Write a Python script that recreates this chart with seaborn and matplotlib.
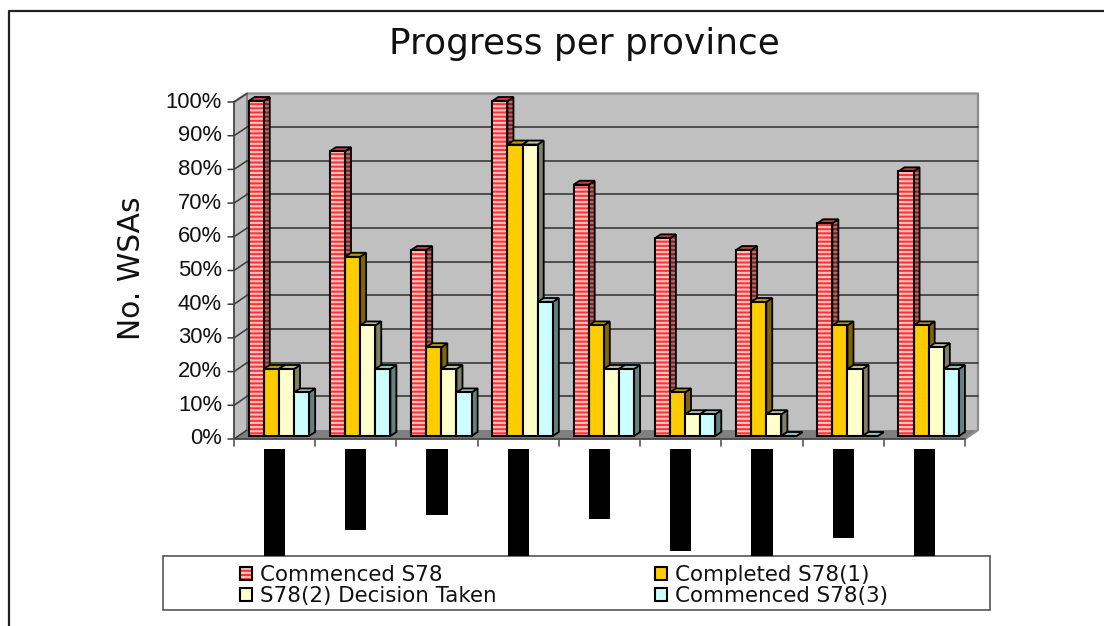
#progress per province chart, 3D look done by hand on top of seaborn bars
import pandas as pd
import matplotlib
matplotlib.use('Agg')
import matplotlib.pyplot as plt
import seaborn as sns
from matplotlib.patches import Patch, Polygon, Rectangle
from matplotlib.legend_handler import HandlerTuple

provinces = ['P1', 'P2', 'P3', 'P4', 'P5', 'P6', 'P7', 'P8', 'P9']
commenced_s78 = [100, 85, 55.5, 100, 75, 59, 55.5, 63.5, 79]
completed_s78_1 = [20, 53.5, 26.5, 87, 33, 13, 40, 33, 33]
decision_s78_2 = [20, 33, 20, 87, 20, 6.5, 6.5, 20, 26.5]
commenced_s78_3 = [13, 20, 13, 40, 20, 6.5, 0, 0, 20]
# the province names are blacked out in the picture, these are the black lengths
hidden_label_len = [107, 81, 66, 107, 70, 102, 107, 89, 107]

series_names = ['Commenced S78', 'Completed S78(1)', 'S78(2) Decision Taken', 'Commenced S78(3)']
series_values = [commenced_s78, completed_s78_1, decision_s78_2, commenced_s78_3]
face_colors = ['#ff3333', '#ffcc00', '#ffffcc', '#ccffff']
side_colors = ['#7f1f1f', '#806600', '#808066', '#668080']
top_colors = ['#c23a3a', '#bf9900', '#bfbf99', '#99bfbf']
stripe_color = '#ffc4c4'
y_ticks = list(range(0, 101, 10))

sns.set_style('white')
plt.rcParams['hatch.linewidth'] = 1.5
W, H = 1104, 626
fig = plt.figure(figsize=(W / 100, H / 100), dpi=100)

#background layer in pixel coords
bg = fig.add_axes([0, 0, 1, 1])
bg.set_xlim(0, W)
bg.set_ylim(H, 0)
bg.axis('off')
bg.plot([9, 9, W], [H, 11, 11], color='#222222', lw=1.6)


def front_y(v):
    return 439 - 3.37 * v


def back_y(v):
    return 430 - 3.365 * v


bg.add_patch(Polygon([(234, 102), (247, 93.5), (978, 93.5), (978, 430), (965, 439), (234, 439)],
                     facecolor='#c0c0c0', edgecolor='none'))
bg.add_patch(Polygon([(234, 439), (247, 430), (978, 430), (965, 439)], facecolor='#808080', edgecolor='none'))
bg.plot([234, 247, 978, 978, 965], [102, 93.5, 93.5, 430, 439], color='#8c8c8c', lw=1.6)
bg.plot([247, 247], [93.5, 430], color='#808080', lw=1.4)
for v in y_ticks:
    if v > 0 and v < 100:
        bg.plot([247, 978], [back_y(v), back_y(v)], color='#3a3a3a', lw=1.2)
    bg.plot([228, 234, 247], [front_y(v), front_y(v), back_y(v)], color='#3a3a3a', lw=1.1)
    bg.text(222, front_y(v), str(v) + '%', ha='right', va='center', fontsize=15.8, family='Liberation Sans', color='#111111')
bg.plot([234, 234], [102, 439], color='#444444', lw=1.3)
bg.plot([234, 965], [439, 439], color='#444444', lw=1.3)
for i in range(len(provinces) + 1):
    tick_x = 234 + 731 / len(provinces) * i
    bg.plot([tick_x, tick_x], [439, 446], color='#555555', lw=1.2)
bg.add_patch(Rectangle((163, 556), 827, 54, facecolor='white', edgecolor='#555555', lw=1.2))
bg.text(584, 44, 'Progress per province', ha='center', va='center', fontsize=25.8, color='#111111')
bg.text(131, 268, 'No. WSAs', rotation=90, ha='center', va='center', fontsize=21.4, color='#111111')

df = pd.DataFrame({'province': provinces * 4,
                   'series': [s for s in series_names for p in provinces],
                   'value': [v for vals in series_values for v in vals]})

#main bars
ax = fig.add_axes([238.3 / W, 1 - 436 / H, 731 / W, 335 / H])
ax.patch.set_alpha(0)
sns.barplot(data=df, x='province', y='value', hue='series', hue_order=series_names,
            palette=face_colors, width=0.745, gap=0, saturation=1, edgecolor='black',
            linewidth=1.5, legend=False, ax=ax)
ax.set_xlim(-0.5, 8.5)
ax.set_ylim(0, 100)
ax.axis('off')

# side and top faces: front corners plus the same corners pushed back by the depth
push = (6, 4)
inv = fig.transFigure.inverted()
bars = [b for c in ax.containers for b in c]
order = sorted(range(len(bars)), key=lambda n: bars[n].get_x())
for rank, n in enumerate(order):
    b = bars[n]
    s = n // len(provinces)
    b.set_zorder(50)
    b.set_clip_on(False)
    x0, x1, top = b.get_x(), b.get_x() + b.get_width(), b.get_height()
    p0 = ax.transData.transform([(x0, top), (x1, top), (x1, 0)])
    top_face = inv.transform([p0[0], p0[1], p0[1] + push, p0[0] + push])
    side_face = inv.transform([p0[1], p0[2], p0[2] + push, p0[1] + push])
    z = 10 + rank * 0.1
    if s == 0:
        ax.add_artist(Polygon(side_face, transform=fig.transFigure, facecolor=side_colors[s], edgecolor='#b07070',
                              hatch='----', lw=0, clip_on=False, zorder=z))
        ax.add_artist(Polygon(side_face, transform=fig.transFigure, fill=False, edgecolor='black',
                              lw=1.3, clip_on=False, zorder=z))
    else:
        ax.add_artist(Polygon(side_face, transform=fig.transFigure, facecolor=side_colors[s], edgecolor='black',
                              lw=1.3, clip_on=False, zorder=z))
    ax.add_artist(Polygon(top_face, transform=fig.transFigure, facecolor=top_colors[s], edgecolor='black',
                          lw=1.3, clip_on=False, zorder=z))
    if s == 0:
        # pink stripes, with the black outline as a separate patch
        b.set_hatch('----')
        b.set_edgecolor(stripe_color)
        b.set_linewidth(0)
        ax.add_patch(Rectangle((x0, 0), b.get_width(), top, fill=False, edgecolor='black', lw=1.5,
                               clip_on=False, zorder=51))

#black bars where the province names were hidden
lab = fig.add_axes([234 / W, 1 - 556 / H, 731 / W, 107 / H])
lab.patch.set_alpha(0)
sns.barplot(x=provinces, y=hidden_label_len, color='black', saturation=1, width=0.26, linewidth=0, ax=lab)
lab.set_xlim(-0.5, 8.5)
lab.set_ylim(107, 0)
lab.axis('off')

#legend
handles = [(Patch(facecolor=face_colors[0], edgecolor=stripe_color, hatch='----', lw=0),
            Patch(fill=False, edgecolor='black', lw=1.5)),
           Patch(facecolor=face_colors[1], edgecolor='black', lw=1.5),
           Patch(facecolor=face_colors[2], edgecolor='black', lw=1.5),
           Patch(facecolor=face_colors[3], edgecolor='black', lw=1.5)]
order_leg = [0, 2, 1, 3]
fig.legend([handles[i] for i in order_leg], [series_names[i] for i in order_leg], ncols=2, frameon=False,
           loc='upper left', bbox_to_anchor=(240 / W, 1 - 565 / H), borderaxespad=0, borderpad=0,
           prop={'size': 15.4}, handlelength=0.56, handleheight=0.56, handletextpad=0.38,
           labelspacing=0.05, columnspacing=7.4, labelcolor='#111111',
           handler_map={tuple: HandlerTuple(ndivide=1, pad=0)})

plt.savefig('out.png', dpi=100)
